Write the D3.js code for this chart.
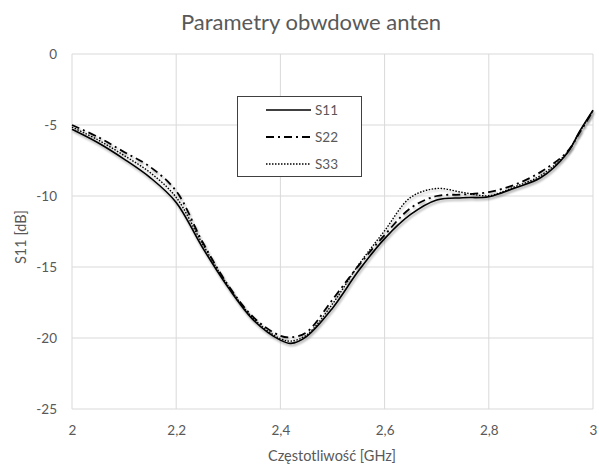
<!DOCTYPE html>
<html><head><meta charset="utf-8">
<script src="https://cdn.jsdelivr.net/npm/d3@7"></script>
<style>body{margin:0;background:#fff}text{font-family:Lato,"Open Sans",sans-serif;fill:#595959}</style>
</head><body><svg id="c" width="599" height="464"></svg>
<script>
const freq = [2.0,2.05,2.1,2.15,2.2,2.25,2.3,2.35,2.4,2.42,2.45,2.5,2.55,2.6,2.65,2.7,2.75,2.8,2.85,2.9,2.95,2.975,3.0];
const s11  = [-5.3,-6.25,-7.4,-8.7,-10.45,-13.6,-16.45,-18.8,-20.15,-20.38,-19.9,-17.9,-15.27,-13.0,-11.3,-10.28,-10.12,-10.05,-9.43,-8.7,-7.0,-5.4,-3.95];
const s22  = [-5.0,-5.85,-6.9,-7.95,-9.65,-13.2,-16.3,-18.6,-19.85,-19.95,-19.6,-17.3,-14.9,-12.75,-10.85,-10.0,-9.9,-9.72,-9.2,-8.3,-6.9,-5.5,-4.0];
const s33  = [-5.15,-6.05,-7.15,-8.35,-10.1,-13.35,-16.35,-18.7,-20.05,-20.22,-19.8,-17.6,-14.85,-12.45,-10.1,-9.47,-9.75,-9.98,-9.35,-8.55,-6.95,-5.45,-4.0];
const seriesNames = ["S11","S22","S33"];
const xTicks = [2,2.2,2.4,2.6,2.8,3];
const yTicks = [0,-5,-10,-15,-20,-25];
const title = "Parametry obwdowe anten";
const xLabel = "Częstotliwość [GHz]";
const yLabel = "S11 [dB]";

const svg = d3.select("#c");
const x = d3.scaleLinear().domain([2,3]).range([72,593]);
const y = d3.scaleLinear().domain([-25,0]).range([409,54]);
const fmt = d => String(d).replace(".",",");

const defs = svg.append("defs");
const f = defs.append("filter").attr("id","sh").attr("x","-10%").attr("y","-10%").attr("width","120%").attr("height","130%");
f.append("feDropShadow").attr("dx",1).attr("dy",2).attr("stdDeviation",1.2).attr("flood-color","#000").attr("flood-opacity",0.35);

// grid
const g = svg.append("g");
g.selectAll(".hg").data(yTicks).join("line")
  .attr("x1",x(2)).attr("x2",x(3)).attr("y1",d=>y(d)).attr("y2",d=>y(d))
  .attr("stroke","#d9d9d9").attr("stroke-width",1);
g.selectAll(".vg").data(xTicks).join("line")
  .attr("x1",d=>x(d)).attr("x2",d=>x(d)).attr("y1",y(0)).attr("y2",y(-25))
  .attr("stroke","#d9d9d9").attr("stroke-width",1);

// axes labels via d3 axes
const ax = svg.append("g").attr("transform",`translate(0,${y(-25)})`)
  .call(d3.axisBottom(x).tickValues(xTicks).tickFormat(fmt).tickSize(0).tickPadding(16));
ax.select(".domain").remove();
ax.selectAll("text").attr("font-size",13.5).attr("fill","#595959").style("font-family","Lato,'Open Sans',sans-serif");
const ay = svg.append("g").attr("transform",`translate(${x(2)},0)`)
  .call(d3.axisLeft(y).tickValues(yTicks).tickFormat(d=>String(d)).tickSize(0).tickPadding(15));
ay.select(".domain").remove();
ay.selectAll("text").attr("font-size",13.5).attr("fill","#595959").style("font-family","Lato,'Open Sans',sans-serif");

// lines
const styles = [
  {data:s11, w:1.6, dash:null},
  {data:s22, w:1.8, dash:"8,4,2,4"},
  {data:s33, w:1.4, dash:"1.5,1.5"}
];
const line = d3.line().x((d,i)=>x(freq[i])).y(d=>y(d)).curve(d3.curveCatmullRom.alpha(0.5));
styles.slice().reverse().forEach(s=>{
  svg.append("path").attr("d",line(s.data)).attr("fill","none")
    .attr("stroke","#000").attr("stroke-width",s.w)
    .attr("stroke-dasharray",s.dash).attr("filter","url(#sh)");
});

// legend
const lg = svg.append("g");
lg.append("rect").attr("x",237.5).attr("y",96.5).attr("width",124).attr("height",80)
  .attr("fill","#fff").attr("stroke","#404040").attr("stroke-width",1);
const ly = [110,137,164];
seriesNames.forEach((n,i)=>{
  lg.append("line").attr("x1",266).attr("x2",311).attr("y1",ly[i]).attr("y2",ly[i])
    .attr("stroke","#000").attr("stroke-width",styles[i].w).attr("stroke-dasharray",styles[i].dash);
  lg.append("text").attr("x",315).attr("y",ly[i]).attr("dy","0.35em").attr("font-size",13.5).text(n);
});

// titles
svg.append("text").attr("x",311).attr("y",30).attr("text-anchor","middle").attr("font-size",22).text(title);
svg.append("text").attr("x",332).attr("y",461).attr("text-anchor","middle").attr("font-size",14.5).text(xLabel);
svg.append("text").attr("transform",`translate(26,237) rotate(-90)`).attr("text-anchor","middle").attr("font-size",14.5).text(yLabel);
</script></body></html>
